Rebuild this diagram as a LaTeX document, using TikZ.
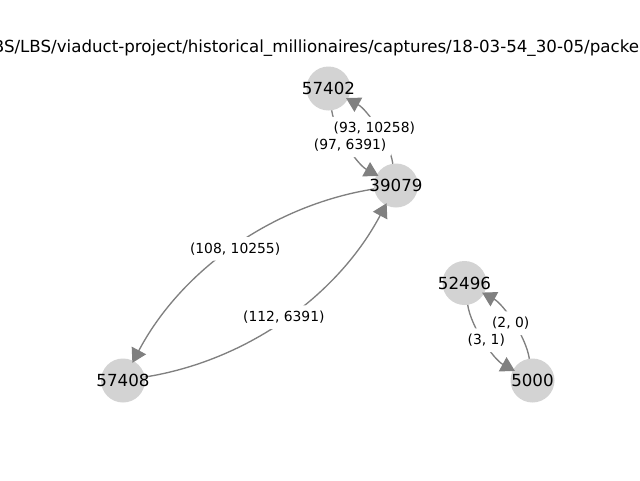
\documentclass[tikz,border=0pt]{standalone}
\usepackage{fontspec}
\setmainfont{DejaVu Sans}
\usetikzlibrary{calc,arrows.meta}
\definecolor{nodegray}{HTML}{D3D3D3}
\definecolor{edgegray}{HTML}{808080}
\newcommand\nxedge[2]{%
  \coordinate (m#1#2) at ($(#1)!0.5!(#2)$);
  \coordinate (c#1#2) at ($(m#1#2)!0.5!-90:(#2)$);
  \coordinate (l#1#2) at ($(m#1#2)!0.25!-90:(#2)$);
  \draw[nxedgeline] (#1) .. controls ($(#1)!0.6667!(c#1#2)$) and ($(#2)!0.6667!(c#1#2)$) .. (#2);
}
\newcommand\nxelabel[3]{%
  \node[elabel] (t#1#2) at (l#1#2) {#3};
}
\begin{document}
\begin{tikzpicture}[x=0.75pt,y=-0.75pt,
  nxnode/.style={circle,fill=nodegray,minimum size=33pt,inner sep=0pt,outer sep=0pt},
  nlabel/.style={inner sep=0pt,font=\fontsize{12.5}{15}\selectfont},
  nxedgeline/.style={draw=edgegray,line width=1pt,shorten >=-1.5pt,
    -{Triangle[length=10.5pt,width=12pt,fill=edgegray]}},
  elabel/.style={fill=white,rounded corners=2pt,inner xsep=3.4pt,inner ysep=4.2pt,
    font=\fontsize{10.4}{12.5}\selectfont},
  titlestyle/.style={inner sep=0pt,anchor=base west,font=\fontsize{12.5}{15}\selectfont}]
\fill[white] (0,0) rectangle (640,480);
\useasboundingbox (0,0) rectangle (640,480);
\node[titlestyle] (title) at (-7.4,52) {BS/LBS/viaduct-project/historical\_millionaires/captures/18-03-54\_30-05/packe};
\node[nxnode] (n57402) at (328.5,88.5) {};
\node[nxnode] (n39079) at (396,185.5) {};
\node[nxnode] (n57408) at (123,380.5) {};
\node[nxnode] (n52496) at (464.5,283) {};
\node[nxnode] (n5000) at (532.5,380.5) {};
\nxedge{n39079}{n57402}
\nxedge{n57402}{n39079}
\nxedge{n39079}{n57408}
\nxedge{n57408}{n39079}
\nxedge{n5000}{n52496}
\nxedge{n52496}{n5000}
\nxelabel{n39079}{n57402}{(93, 10258)}
\nxelabel{n57402}{n39079}{(97, 6391)}
\nxelabel{n39079}{n57408}{(108, 10255)}
\nxelabel{n57408}{n39079}{(112, 6391)}
\nxelabel{n5000}{n52496}{(2, 0)}
\nxelabel{n52496}{n5000}{(3, 1)}
\node[nlabel] (l57402) at (n57402) {57402};
\node[nlabel] (l39079) at (n39079) {39079};
\node[nlabel] (l57408) at (n57408) {57408};
\node[nlabel] (l52496) at (n52496) {52496};
\node[nlabel] (l5000) at (n5000) {5000};
\end{tikzpicture}
\end{document}
